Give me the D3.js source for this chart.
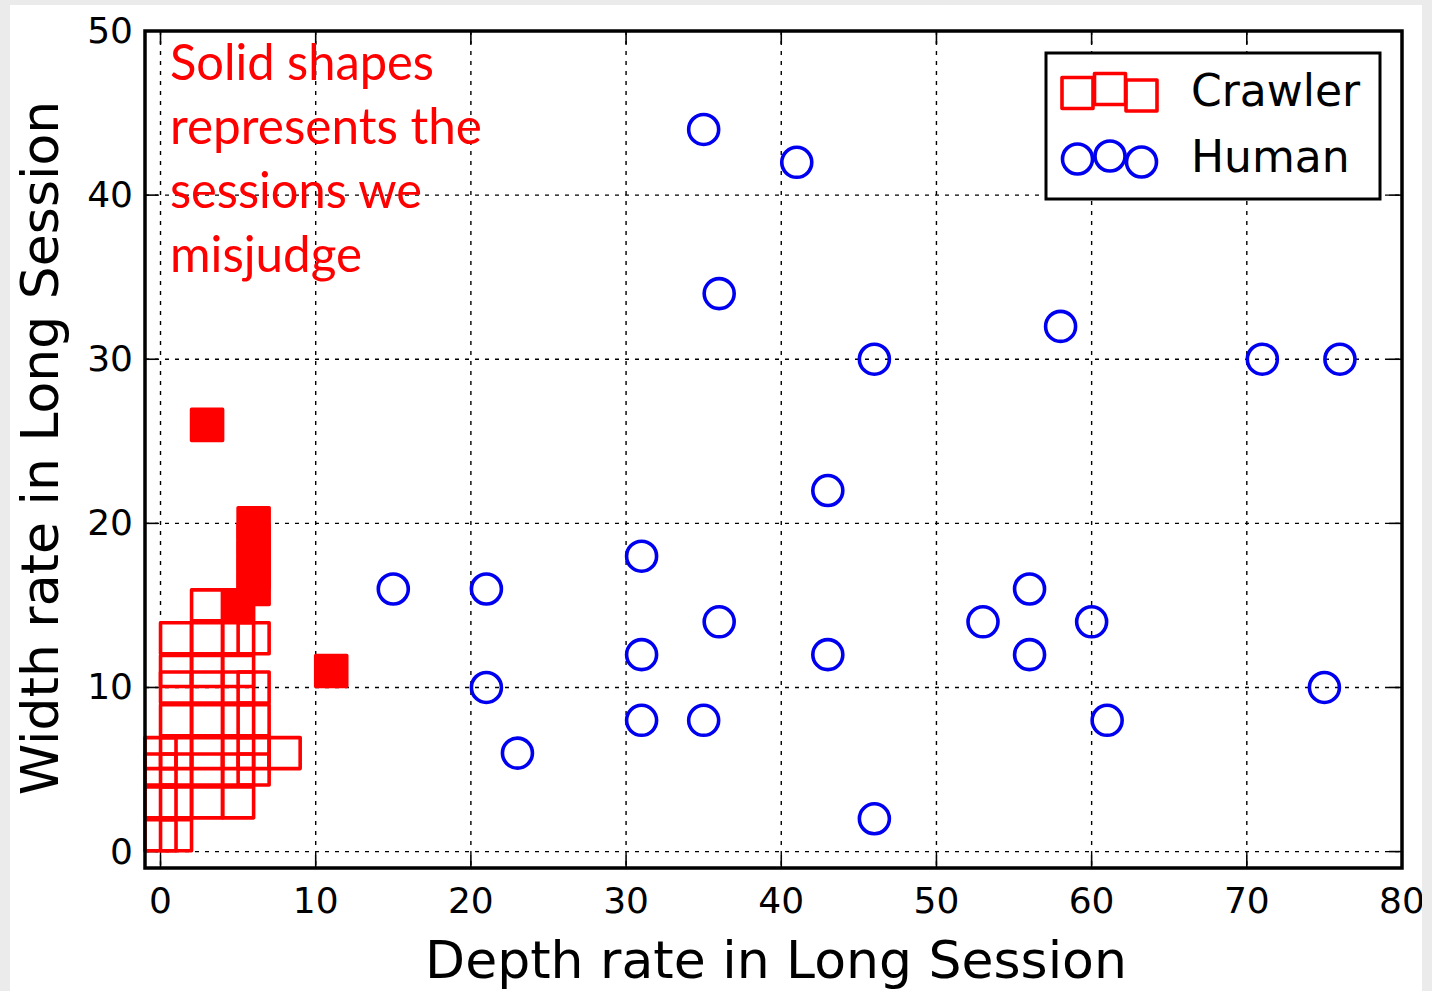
<!DOCTYPE html>
<html>
<head>
<meta charset="utf-8">
<script src="https://cdn.jsdelivr.net/npm/d3@7"></script>
<style>
  html, body { margin: 0; padding: 0; background: #ebebeb; }
  svg { display: block; }
</style>
</head>
<body>
<svg id="chart" width="1432" height="991"></svg>
<script>
// crawler sessions judged correctly (hollow squares)
const crawlerX = [3, 1, 3, 5, 6, 1, 3, 5, 1, 3, 5, 6, 1, 3, 5, 6, 0, 1, 3, 5, 6, 8, 0, 1, 3, 5, 6, 0, 1, 3, 5, 0, 1];
const crawlerY = [15, 13, 13, 13, 13, 11, 11, 11, 10, 10, 10, 10, 8, 8, 8, 8, 6, 6, 6, 6, 6, 6, 5, 5, 5, 5, 5, 3, 3, 3, 3, 1, 1];
// misjudged crawler sessions (solid squares)
const missX = [3, 6, 6, 6, 6, 6, 5, 11];
const missY = [26, 20, 19, 18, 17, 16, 15, 11];
// human sessions
const humanX = [35, 41, 36, 58, 46, 71, 76, 43, 31, 15, 21, 56, 36, 53, 60, 31, 43, 56, 21, 75, 31, 35, 61, 23, 46];
const humanY = [44, 42, 34, 32, 30, 30, 30, 22, 18, 16, 16, 16, 14, 14, 14, 12, 12, 12, 10, 10, 8, 8, 8, 6, 2];

const xTicks = [0, 10, 20, 30, 40, 50, 60, 70, 80];
const yTicks = [0, 10, 20, 30, 40, 50];
const noteLines = ['Solid shapes', 'represents the', 'sessions we', 'misjudge'];
const noteWidths = [264, 312, 252, 192];

const svg = d3.select('#chart');
const pLeft = 145, pRight = 1402, pTop = 31, pBottom = 868;
const x = d3.scaleLinear().domain([-1, 80]).range([pLeft, pRight]);
const y = d3.scaleLinear().domain([-1, 50]).range([pBottom, pTop]);
const sq = 31, rad = 15;
const RED = '#ff0000', BLUE = '#0000f0';

// white figure area
svg.append('rect').attr('x', 10).attr('y', 5).attr('width', 1412).attr('height', 986).attr('fill', '#fff');

// grid
const grid = svg.append('g').attr('stroke', '#000').attr('stroke-width', 1.4).attr('stroke-dasharray', '4,6');
grid.selectAll('line.vx').data(xTicks.filter(d => d < 80)).enter().append('line')
    .attr('x1', d => x(d)).attr('x2', d => x(d)).attr('y1', pTop).attr('y2', pBottom);
grid.selectAll('line.hy').data(yTicks.filter(d => d < 50)).enter().append('line')
    .attr('y1', d => y(d)).attr('y2', d => y(d)).attr('x1', pLeft).attr('x2', pRight);

// ticks (inward, on all four sides)
const ticks = svg.append('g').attr('stroke', '#000').attr('stroke-width', 1.6);
xTicks.forEach(function (d) {
  ticks.append('line').attr('x1', x(d)).attr('x2', x(d)).attr('y1', pBottom).attr('y2', pBottom - 13);
  ticks.append('line').attr('x1', x(d)).attr('x2', x(d)).attr('y1', pTop).attr('y2', pTop + 13);
});
yTicks.forEach(function (d) {
  ticks.append('line').attr('y1', y(d)).attr('y2', y(d)).attr('x1', pLeft).attr('x2', pLeft + 13);
  ticks.append('line').attr('y1', y(d)).attr('y2', y(d)).attr('x1', pRight).attr('x2', pRight - 13);
});

// markers
const marks = svg.append('g');
const crawler = d3.range(crawlerX.length).map(i => ({ x: crawlerX[i], y: crawlerY[i] }));
const miss = d3.range(missX.length).map(i => ({ x: missX[i], y: missY[i] }));
const human = d3.range(humanX.length).map(i => ({ x: humanX[i], y: humanY[i] }));

marks.selectAll('rect.crawler').data(crawler).enter().append('rect')
    .attr('class', 'crawler')
    .attr('x', d => x(d.x) - sq / 2).attr('y', d => y(d.y) - sq / 2)
    .attr('width', sq).attr('height', sq)
    .attr('fill', 'none').attr('stroke', RED).attr('stroke-width', 3.6)
    .attr('stroke-linejoin', 'round');

marks.selectAll('rect.miss').data(miss).enter().append('rect')
    .attr('class', 'miss')
    .attr('x', d => x(d.x) - sq / 2).attr('y', d => y(d.y) - sq / 2)
    .attr('width', sq).attr('height', sq)
    .attr('fill', RED).attr('stroke', RED).attr('stroke-width', 3.6)
    .attr('stroke-linejoin', 'round');

marks.selectAll('circle.human').data(human).enter().append('circle')
    .attr('class', 'human')
    .attr('cx', d => x(d.x)).attr('cy', d => y(d.y)).attr('r', rad)
    .attr('fill', 'none').attr('stroke', BLUE).attr('stroke-width', 3.6);

// frame
svg.append('rect').attr('x', pLeft).attr('y', pTop).attr('width', pRight - pLeft).attr('height', pBottom - pTop)
    .attr('fill', 'none').attr('stroke', '#000').attr('stroke-width', 3.5);

// tick labels
const font = 'DejaVu Sans, sans-serif';
svg.append('g').selectAll('text').data(xTicks).enter().append('text')
    .attr('x', d => x(d)).attr('y', 913)
    .attr('text-anchor', 'middle').attr('font-family', font).attr('font-size', 36)
    .text(d => d);
svg.append('g').selectAll('text').data(yTicks).enter().append('text')
    .attr('x', 133).attr('y', d => y(d) + 12)
    .attr('text-anchor', 'end').attr('font-family', font).attr('font-size', 36)
    .text(d => d);

// axis titles
svg.append('text').attr('x', 776).attr('y', 978)
    .attr('text-anchor', 'middle').attr('font-family', font).attr('font-size', 52)
    .text('Depth rate in Long Session');
svg.append('text').attr('transform', 'translate(58,448) rotate(-90)')
    .attr('text-anchor', 'middle').attr('font-family', font).attr('font-size', 52)
    .text('Width rate in Long Session');

// annotation
svg.append('g').selectAll('text').data(noteLines).enter().append('text')
    .attr('x', 170).attr('y', (d, i) => 80 + i * 64)
    .attr('font-family', 'Lato, Open Sans, sans-serif').attr('font-size', 50)
    .attr('fill', RED)
    .attr('textLength', (d, i) => noteWidths[i]).attr('lengthAdjust', 'spacingAndGlyphs')
    .text(d => d);

// legend
const lg = svg.append('g');
lg.append('rect').attr('x', 1046).attr('y', 53).attr('width', 334).attr('height', 146)
    .attr('fill', '#fff').attr('stroke', '#000').attr('stroke-width', 3);
const lgX = [1077.5, 1110, 1141.5];
const lgCrawlerY = [93, 89, 95.5];
const lgHumanY = [159, 156, 162];
lg.selectAll('rect.lc').data(lgX).enter().append('rect')
    .attr('x', (d) => d - sq / 2).attr('y', (d, i) => lgCrawlerY[i] - sq / 2)
    .attr('width', sq).attr('height', sq)
    .attr('fill', 'none').attr('stroke', RED).attr('stroke-width', 3.6).attr('stroke-linejoin', 'round');
lg.selectAll('circle.lh').data(lgX).enter().append('circle')
    .attr('cx', d => d).attr('cy', (d, i) => lgHumanY[i]).attr('r', rad)
    .attr('fill', 'none').attr('stroke', BLUE).attr('stroke-width', 3.6);
lg.append('text').attr('x', 1191).attr('y', 106).attr('font-family', font).attr('font-size', 44).text('Crawler');
lg.append('text').attr('x', 1191).attr('y', 172).attr('font-family', font).attr('font-size', 44).text('Human');

// grey page margin on the right clips the last tick label, as in the scan
svg.append('rect').attr('x', 1422).attr('y', 0).attr('width', 10).attr('height', 991).attr('fill', '#ebebeb');
</script>
</body>
</html>
